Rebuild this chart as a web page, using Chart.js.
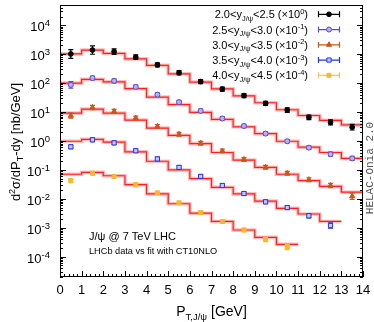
<!DOCTYPE html>
<html><head><meta charset="utf-8">
<script src="https://cdn.jsdelivr.net/npm/chart.js@4/dist/chart.umd.min.js"></script>
<style>html,body{margin:0;padding:0;background:#fff}canvas{display:block}</style>
</head><body>
<canvas id="c" width="374" height="322" style="width:374px;height:322px"></canvas>
<script>
// ---- data ----
const binCenters = [0.5,1.5,2.5,3.5,4.5,5.5,6.5,7.5,8.5,9.5,10.5,11.5,12.5,13.5];
const binEdges = [0,1,2,3,4,5,6,7,8,9,10,11,12,13,14];
const xTickLabels = ['0','1','2','3','4','5','6','7','8','9','10','11','12','13','14'];
const yTickExponents = [4,3,2,1,0,-1,-2,-3,-4];

const rapidityLow  = ['2.0','2.5','3.0','3.5','4.0'];
const rapidityHigh = ['2.5','3.0','3.5','4.0','4.5'];
const scaleExponents = ['0','-1','-2','-3','-4'];

// LHCb data points (already scaled)
const data1 = [1016,1390,1227,784,429,229,113,62,37,20,11.7,6.6,4.4,3.0];
const err1  = [0.42,0.40,0.24,0.20,0.18,0.18,0.17,0.17,0.17,0.18,0.20,0.20,0.22,0.25];
const data2 = [87,150,120,74,40,22,11,6.0,3.3,1.8,0.98,0.59,0.35,0.25];
const err2  = [0.30,0.17,0.17,0.15,0.15,0.15,0.15,0.15,0.15,0.15,0.15,0.15,0.17,0.18];
const data3 = [7.5,14.4,10.5,6.2,3.2,1.7,0.84,0.45,0.23,0.123,0.077,0.046,0.029,0.0124];
const err3  = [0.22,0.18,0.18,0.16,0.16,0.16,0.16,0.16,0.16,0.16,0.16,0.17,0.18,0.28];
const data4 = [0.63,1.1,0.86,0.46,0.24,0.123,0.060,0.029,0.0153,0.0079,0.0050,0.0026,0.0012];
const err4  = [0.15,0.15,0.15,0.15,0.15,0.15,0.15,0.15,0.15,0.15,0.15,0.17,0.24];
const data5 = [0.0425,0.077,0.060,0.031,0.0161,0.0073,0.00335,0.00166,0.00084,0.00039,0.000215];
const err5  = [0.17,0.16,0.16,0.16,0.16,0.16,0.16,0.17,0.17,0.18,0.22];

// CT10NLO fit histograms (per 1 GeV bin)
const fit1 = [1016,1390,1060,690,410,210,108,63,36,21,12,7.6,5.2,3.6];
const fit2 = [100,135,110,64,33,18,9.8,5.6,3.1,1.8,0.98,0.61,0.40,0.25];
const fit3 = [9.2,12.6,9.2,5.3,2.8,1.56,0.81,0.40,0.22,0.123,0.071,0.043,0.027,0.017];
const fit4 = [0.98,1.14,0.92,0.42,0.20,0.10,0.050,0.025,0.0149,0.0084,0.0047,0.0030,0.00166];
const fit5 = [0.071,0.083,0.063,0.031,0.0149,0.0068,0.0032,0.00166,0.00084,0.00047,0.00027];

// ---- styles ----
const FONT = '"Liberation Sans", Arial, sans-serif';
const seriesStyle = [
  {color:'#000000', bar:'#000000', style:'circle',   r:2.4, fill:'#000000', bw:1},
  {color:'#5a4bd1', bar:'#5a4bd1', style:'circle',   r:2.5, fill:'#b9b2f2', bw:1},
  {color:'#c8561e', bar:'#c8561e', style:'triangle', r:3.0, fill:'#c8561e', bw:1},
  {color:'#2233ee', bar:'#2233ee', style:'rect',     r:3.0, fill:'#c6cbff', bw:1},
  {color:'#ffb52e', bar:'#ffc24a', style:'rect',     r:2.8, fill:'#ffb52e', bw:1}
];
const allData = [data1,data2,data3,data4,data5];
const allErr  = [err1,err2,err3,err4,err5];
const allFit  = [fit1,fit2,fit3,fit4,fit5];

function histPoints(fit){
  const pts = fit.map((v,i)=>({x:binEdges[i], y:v}));
  pts.push({x:binEdges[fit.length], y:fit[fit.length-1]});
  return pts;
}
const datasets = [];
allData.forEach((d,i)=>{
  const st = seriesStyle[i];
  datasets.push({type:'scatter', data:d.map((v,j)=>({x:binCenters[j], y:v})), errs:allErr[i], barColor:st.bar,
    pointStyle:st.style, pointRadius:st.r, backgroundColor:st.fill, borderColor:st.color, borderWidth:st.bw, order:0});
});
allFit.forEach(f=>{
  datasets.push({type:'line', data:histPoints(f), stepped:'before', borderColor:'#ff1f1f', borderWidth:1.2,
    pointRadius:0, fill:false, order:1});
  datasets.push({type:'line', data:histPoints(f), stepped:'before', borderColor:'rgba(255,110,110,0.45)', borderWidth:3.6,
    pointRadius:0, fill:false, order:2});
});

function drawRich(ctx, parts, x, y, align){
  let total = 0;
  const w = parts.map(p=>{ctx.font = p[1]+'px '+FONT; const m = ctx.measureText(p[0]).width; total += m; return m;});
  let cx = align==='right' ? x-total : align==='center' ? x-total/2 : x;
  ctx.textAlign='left'; ctx.textBaseline='alphabetic';
  parts.forEach((p,i)=>{ctx.font = p[1]+'px '+FONT; ctx.fillText(p[0], cx, y+p[2]); cx += w[i];});
  return total;
}

const decor = {
  id:'decor',
  beforeDatasetDraw(chart, args){
    const ds = chart.data.datasets[args.index];
    if(!ds.errs) return;
    const {ctx} = chart; const xs = chart.scales.x, ys = chart.scales.y;
    ctx.save();
    ctx.beginPath(); ctx.rect(chart.chartArea.left, chart.chartArea.top, chart.chartArea.right-chart.chartArea.left, chart.chartArea.bottom-chart.chartArea.top); ctx.clip();
    ctx.strokeStyle = ds.barColor; ctx.lineWidth = 1.2;
    ds.data.forEach((p,j)=>{
      const e = ds.errs[j];
      const px = xs.getPixelForValue(p.x);
      const y1 = ys.getPixelForValue(p.y*(1+e)), y2 = ys.getPixelForValue(p.y/(1+e));
      ctx.beginPath();
      ctx.moveTo(px, y1); ctx.lineTo(px, y2);
      ctx.moveTo(px-2.5, y1); ctx.lineTo(px+2.5, y1);
      ctx.moveTo(px-2.5, y2); ctx.lineTo(px+2.5, y2);
      ctx.stroke();
    });
    ctx.restore();
  },
  afterDraw(chart){
    const {ctx, chartArea:a} = chart; const xs = chart.scales.x, ys = chart.scales.y;
    ctx.save();
    ctx.fillStyle = '#000'; ctx.strokeStyle = '#000'; ctx.lineWidth = 1;
    // frame
    ctx.strokeRect(a.left+0.5, a.top+0.5, a.right-a.left-1, a.bottom-a.top-1);
    // y ticks (major + minor), left & right
    ctx.beginPath();
    for(let e=-5;e<=4;e++){
      for(let k=1;k<=9;k++){
        const v = k*Math.pow(10,e);
        if(v<ys.min||v>ys.max) continue;
        const py = Math.round(ys.getPixelForValue(v))+0.5;
        const len = k===1?6:3;
        ctx.moveTo(a.left, py); ctx.lineTo(a.left+len, py);
        ctx.moveTo(a.right, py); ctx.lineTo(a.right-len, py);
      }
    }
    // x ticks
    for(let i=0;i<=70;i++){
      const v = i*0.2;
      const px = Math.round(xs.getPixelForValue(v))+0.5;
      const len = (i%5===0)?6:3;
      ctx.moveTo(px, a.bottom); ctx.lineTo(px, a.bottom-len);
    }
    ctx.stroke();
    // x tick labels
    ctx.font = '13px '+FONT; ctx.textAlign='center'; ctx.textBaseline='alphabetic';
    xTickLabels.forEach((t,i)=>{ ctx.fillText(t, xs.getPixelForValue(i), a.bottom+17); });
    // y tick labels
    yTickExponents.forEach(ex=>{
      const py = ys.getPixelForValue(Math.pow(10,ex));
      drawRich(ctx, [['10',13,0],[String(ex),9.5,-5]], a.left-10, py+6, 'right');
    });
    // axis titles
    drawRich(ctx, [['P',14,0],['T,J/\u03c8',9.5,3.5],[' [GeV]',14,0]], (a.left+a.right)/2, 316, 'center');
    ctx.save();
    ctx.translate(20, (a.top+a.bottom)/2 + 1);
    ctx.rotate(-Math.PI/2);
    drawRich(ctx, [['d',13,0],['2',9,-5],['\u03c3/dP',13,0],['T',9,3],['-dy [nb/GeV]',13,0]], 0, 0, 'center');
    ctx.restore();
    // legend
    const ly0 = 14.3, ldy = 15.25;
    rapidityLow.forEach((lo,i)=>{
      const cy = ly0 + i*ldy;
      ctx.fillStyle = '#000';
      drawRich(ctx, [[lo+'<y',11,0],['J/\u03c8',7.5,2.5],['<'+rapidityHigh[i]+' (\u00d710',11,0],[scaleExponents[i],7.5,-4.5],[')',11,0]], 308, cy+4, 'right');
      const st = seriesStyle[i];
      ctx.strokeStyle = st.bar; ctx.lineWidth = 1.2;
      ctx.beginPath();
      ctx.moveTo(318, cy); ctx.lineTo(340, cy);
      ctx.moveTo(318.5, cy-3); ctx.lineTo(318.5, cy+3);
      ctx.moveTo(339.5, cy-3); ctx.lineTo(339.5, cy+3);
      ctx.stroke();
      ctx.fillStyle = st.fill; ctx.strokeStyle = st.color; ctx.lineWidth = st.bw;
      Chart.helpers.drawPoint(ctx, {pointStyle:st.style, radius:st.r, rotation:0, borderWidth:st.bw}, 329, cy);
    });
    // annotations
    ctx.fillStyle = '#000'; ctx.textAlign='left';
    ctx.font = '11px '+FONT; ctx.fillText('J/\u03c8 @ 7 TeV LHC', 89, 240);
    ctx.font = '9.2px '+FONT; ctx.fillText('LHCb data vs fit with CT10NLO', 89, 253.5);
    // program tag
    ctx.save();
    ctx.translate(373, 168); ctx.rotate(-Math.PI/2);
    ctx.fillStyle = '#555'; ctx.font = '11px "Liberation Mono", monospace'; ctx.textAlign='center';
    ctx.fillText('HELAC-Onia 2.0', 0, 0);
    ctx.restore();
    ctx.restore();
  }
};

new Chart(document.getElementById('c'), {
  data:{datasets},
  options:{
    responsive:false, animation:false, devicePixelRatio:1,
    layout:{padding:{left:60, right:11, top:1, bottom:45}},
    plugins:{legend:{display:false}, tooltip:{enabled:false}},
    scales:{
      x:{type:'linear', min:0, max:14, display:false},
      y:{type:'logarithmic', min:2e-5, max:5e4, display:false}
    }
  },
  plugins:[decor]
});
</script>
</body></html>
